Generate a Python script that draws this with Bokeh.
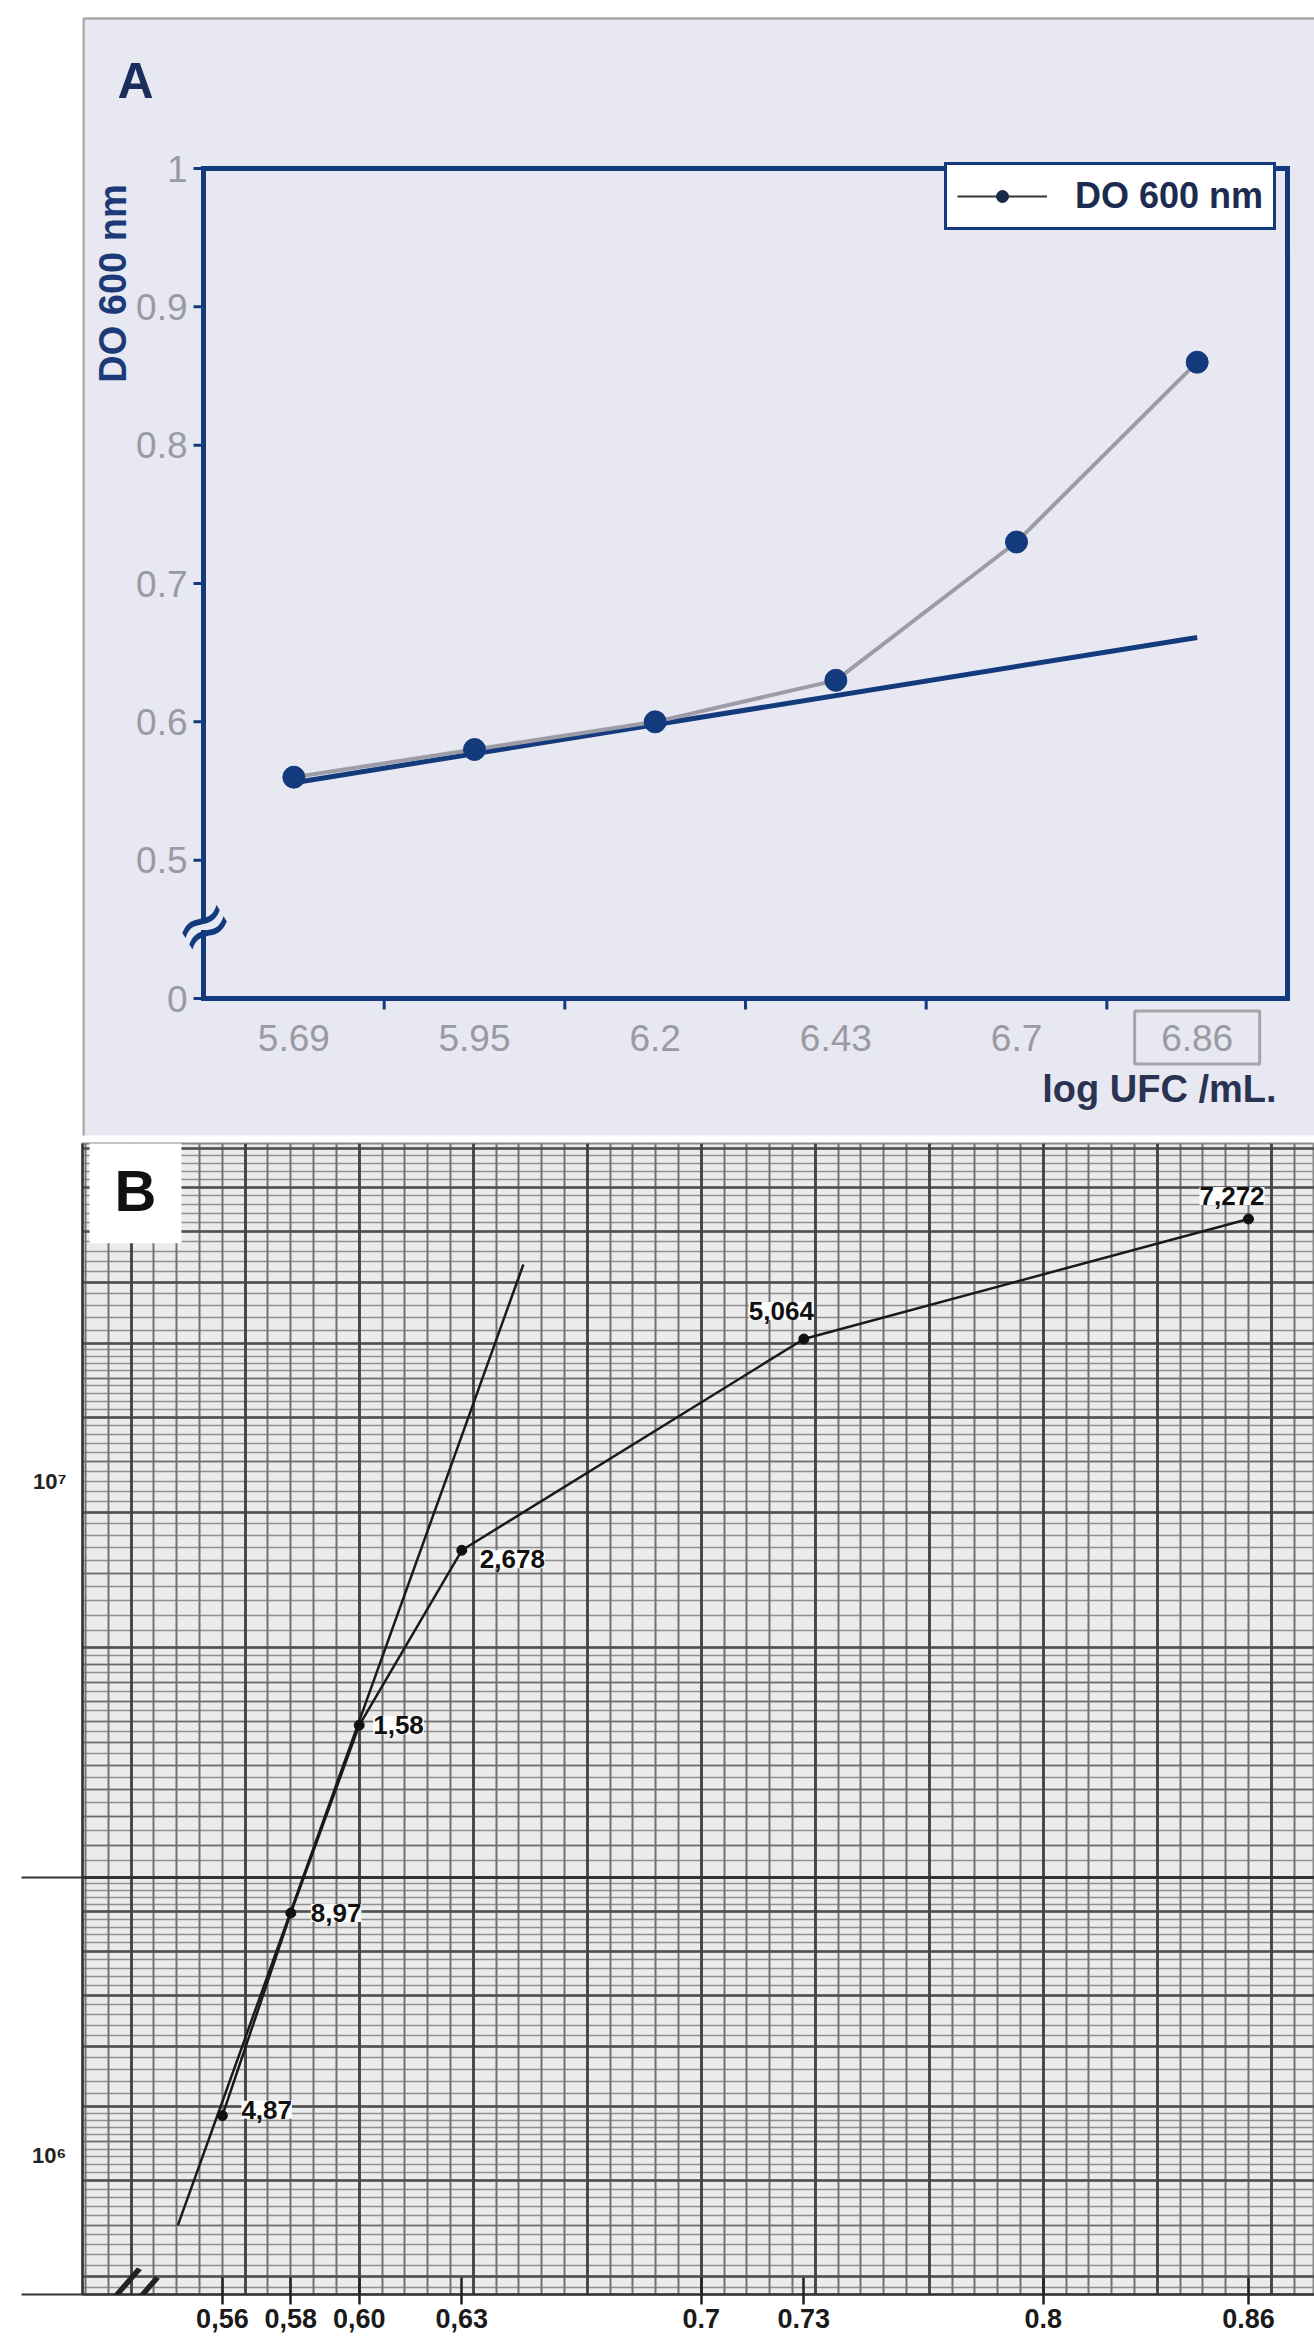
import numpy as np
from bokeh.plotting import figure
from bokeh.models import (Range1d, FixedTicker, Legend, LegendItem, Label, LabelSet,
                          ColumnDataSource, Grid)
from bokeh.layouts import column
from bokeh.embed import file_html
from bokeh.resources import INLINE
from bokeh.core.properties import value

# ---------------- data: panel A ----------------
a_x_labels = ["5.69", "5.95", "6.2", "6.43", "6.7", "6.86"]   # log UFC/mL (categories)
a_od = [0.56, 0.58, 0.60, 0.63, 0.73, 0.86]                  # DO 600 nm
a_trend_y = [0.556, 0.661]                                    # straight reference line, first -> last category
a_y_ticks = [0.4, 0.5, 0.6, 0.7, 0.8, 0.9, 1.0]
a_y_tick_labels = ["0", "0.5", "0.6", "0.7", "0.8", "0.9", "1"]

# ---------------- data: panel B ----------------
b_od = [0.56, 0.58, 0.60, 0.63, 0.73, 0.86]
b_count = [4.87e5, 8.97e5, 1.58e6, 2.678e6, 5.064e6, 7.272e6]
b_point_labels = ["4,87", "8,97", "1,58", "2,678", "5,064", "7,272"]
b_tangent_od = [0.547, 0.648]
b_tangent_count = [3.5e5, 6.34e6]
b_x_ticks = [0.56, 0.58, 0.60, 0.63, 0.7, 0.73, 0.8, 0.86]
b_x_tick_labels = ["0,56", "0,58", "0,60", "0,63", "0.7", "0.73", "0.8", "0.86"]
b_y_label_pos = [432000, 3300000]
b_y_labels = ["10\u2076", "10\u2077"]

# ---------------- styles ----------------
FONT = "Liberation Sans"
NAVY = "#143a7e"
LAV = "#e7e8f1"
GRAYTXT = "#9a9aa3"

# ================= Panel A =================
# The plot area covers the lavender panel; the framed chart, its ticks and labels are glyphs.
n = len(a_x_labels)
xa = [i + 0.5 for i in range(n)]
ya0, ya1 = a_y_ticks[0], a_y_ticks[-1]
W_A, H_A = 1314, 1137
FL = 82                    # left edge of the plot area (aligned with panel B)
X0, Y0 = 203, 998          # canvas pixel of (x=0, y=ya0)
ux = 1 / 180.67            # data units per pixel (x)
uy = 0.1 / 138.33          # data units per pixel (y)


def ax(px):
    return (px - X0) * ux


def ay(py):
    return ya0 + (Y0 - py) * uy


pA = figure(width=W_A, height=H_A, x_range=Range1d(ax(FL), ax(W_A)), y_range=Range1d(ay(H_A), ay(0)),
            x_axis_location=None, y_axis_location=None,
            output_backend="svg", toolbar_location=None,
            min_border_left=FL, min_border_right=0, min_border_top=0, min_border_bottom=0,
            background_fill_color="white", border_fill_color="white", outline_line_color=None)
pA.grid.visible = False

# lavender panel with grey edge
pA.quad(left=ax(FL - 5), right=ax(W_A + 5), bottom=ay(1135), top=ay(18), fill_color=LAV,
        line_color=None)
pA.line(x=[ax(FL + 1), ax(FL + 1), ax(W_A + 5)], y=[ay(1135), ay(18), ay(18)],
        line_color="#a7a7ab", line_width=2.5)

# frame
pA.quad(left=0, right=n, bottom=ya0, top=ya1, fill_color=None, line_color=NAVY,
        line_width=5, line_join="miter")
# y ticks + labels
pA.segment(x0=[-10 * ux] * len(a_y_ticks), y0=a_y_ticks, x1=[0] * len(a_y_ticks), y1=a_y_ticks,
           line_color=NAVY, line_width=3)
pA.text(x=[-16 * ux] * len(a_y_ticks), y=a_y_ticks, text=a_y_tick_labels,
        text_font=value(FONT), text_font_size="37px", text_color=GRAYTXT,
        text_align="right", text_baseline="middle")
# x ticks at category boundaries + labels
bounds = [float(i) for i in range(1, n)]
pA.segment(x0=bounds, y0=[ya0] * len(bounds), x1=bounds, y1=[ya0 - 11 * uy] * len(bounds),
           line_color=NAVY, line_width=3)
lab_y = ay(1037)
pA.text(x=xa, y=[lab_y] * n, text=a_x_labels, text_font=value(FONT), text_font_size="37px",
        text_color=GRAYTXT, text_align="center", text_baseline="middle")
pA.rect(x=xa[-1], y=lab_y, width=125, height=53, width_units="screen", height_units="screen",
        fill_color=None, line_color="#a5a5aa", line_width=3)

# axis break on the y axis
pA.rect(x=0, y=ay(925), width=14, height=9, width_units="screen", height_units="screen",
        fill_color=LAV, line_color=None)

# data
pA.line(x=[xa[0], xa[-1]], y=a_trend_y, line_color=NAVY, line_width=5)
pA.line(x=xa, y=a_od, line_color="#9b9ca6", line_width=4)
pA.scatter(x=xa, y=a_od, size=22, color=NAVY)

lg_line = pA.line(x=[np.nan], y=[np.nan], line_color="#333333", line_width=2)
lg_dot = pA.scatter(x=[np.nan], y=[np.nan], size=9, color="#1a2a4a")
legend = Legend(items=[LegendItem(label="DO 600 nm", renderers=[lg_line, lg_dot])],
                location=(944 - FL, H_A - 230), margin=0, padding=10, spacing=0,
                border_line_color=NAVY, border_line_width=3, border_line_alpha=1.0,
                background_fill_color="white", background_fill_alpha=1.0,
                label_text_font=FONT, label_text_font_size="36px", label_text_font_style="bold",
                label_text_color="#1c2b50", glyph_width=90, glyph_height=30, label_standoff=28)
pA.add_layout(legend)

pA.add_layout(Label(x=ax(135), y=ay(80), text="A", text_font=FONT, text_font_size="50px",
                    text_font_style="bold", text_color="#1b2d5c", text_align="center",
                    text_baseline="middle"))
pA.add_layout(Label(x=ax(112), y=ay(283), text="DO 600 nm", angle=np.pi / 2,
                    text_font=FONT, text_font_size="38px", text_font_style="bold",
                    text_color="#1d3a78", text_align="center", text_baseline="middle"))
pA.add_layout(Label(x=ax(1276), y=ay(1088), text="log UFC /mL.", text_font=FONT,
                    text_font_size="38px", text_font_style="bold", text_color="#2a3352",
                    text_align="right", text_baseline="middle"))
pA.add_layout(Label(x=0, y=ay(925), text="\u2248", text_font="DejaVu Sans", text_font_size="70px",
                    text_color=NAVY, angle=0.55, text_align="center", text_baseline="middle"))

# ================= Panel B =================
yb0, yb1 = 2.84e5, 9.13e6
pB = figure(width=1314, height=1203, x_range=Range1d(0.5191, 0.8793), y_range=Range1d(yb0, yb1),
            y_axis_type="log", output_backend="svg", toolbar_location=None,
            min_border_left=82, min_border_right=0, min_border_top=6, min_border_bottom=46,
            background_fill_color="#ebebeb", border_fill_color="white",
            outline_line_color="#8a8a8a", outline_line_width=2)
pB.grid.visible = False


def add_grid(p, dim, ticks, color, width):
    p.add_layout(Grid(dimension=dim, ticker=FixedTicker(ticks=[float(t) for t in ticks]),
                      grid_line_color=color, grid_line_width=width))


decades = [1e5, 1e6]
fine = np.concatenate([np.concatenate([np.arange(1, 2, 0.05), np.arange(2, 5, 0.1),
                                       np.arange(5, 10, 0.2)]) * d for d in decades])
medium = np.concatenate([np.concatenate([np.arange(1, 2, 0.1), np.arange(2, 5, 0.5),
                                         np.arange(5, 10, 1.0)]) * d for d in decades])
heavy = np.concatenate([np.arange(1, 10, 1.0) * d for d in decades])
vminor = np.arange(0.5, 0.9, 1 / 150)
vmajor = np.arange(0.5, 0.9, 1 / 30)

add_grid(pB, 1, fine, "#909090", 1.3)
add_grid(pB, 0, vminor, "#727272", 2)
add_grid(pB, 1, medium, "#6a6a6a", 1.7)
add_grid(pB, 1, heavy, "#505050", 2.3)
add_grid(pB, 0, vmajor, "#444444", 2.8)
add_grid(pB, 1, decades + [1e7], "#333333", 3)

xb = pB.xaxis[0]
xb.ticker = FixedTicker(ticks=b_x_ticks)
xb.major_label_overrides = dict(zip(b_x_ticks, b_x_tick_labels))
xb.axis_line_color = "#333333"
xb.axis_line_width = 2.5
xb.major_tick_line_color = "#222222"
xb.major_tick_line_width = 2.5
xb.major_tick_in = 17
xb.major_tick_out = 10
xb.minor_tick_line_color = None
xb.major_label_standoff = 4
xb.major_label_text_font = FONT
xb.major_label_text_font_size = "27px"
xb.major_label_text_font_style = "bold"
xb.major_label_text_color = "#1a1a1a"

yb = pB.yaxis[0]
yb.ticker = FixedTicker(ticks=b_y_label_pos, minor_ticks=[yb0, 1e6])
yb.major_label_overrides = dict(zip(b_y_label_pos, b_y_labels))
yb.axis_line_color = "#333333"
yb.axis_line_width = 2.5
yb.major_tick_line_color = None
yb.major_tick_out = 0
yb.major_tick_in = 0
yb.minor_tick_line_color = "#333333"
yb.minor_tick_line_width = 2
yb.minor_tick_out = 61
yb.minor_tick_in = 0
yb.major_label_standoff = -45
yb.major_label_text_font = FONT
yb.major_label_text_font_size = "22px"
yb.major_label_text_font_style = "bold"
yb.major_label_text_color = "#222222"

pB.line(x=b_tangent_od, y=b_tangent_count, line_color="#1a1a1a", line_width=2.5)
pB.line(x=b_od, y=b_count, line_color="#1a1a1a", line_width=2.5)
pB.scatter(x=b_od, y=b_count, size=10, color="#111111")

b_lab_dx = [19, 20, 14, 18, -55, -49]
b_lab_dy = [6, 0, 0, -9, 28, 23]
src = ColumnDataSource(dict(x=b_od, y=b_count, text=b_point_labels, dx=b_lab_dx, dy=b_lab_dy))
pB.add_layout(LabelSet(x="x", y="y", text="text", x_offset="dx", y_offset="dy", source=src,
                       text_font=value(FONT), text_font_size="26px", text_font_style="bold",
                       text_color="#111111", text_align="left", text_baseline="middle",
                       background_fill_color="white", background_fill_alpha=0.95))

pB.add_layout(Label(x=0.5346, y=7.92e6, text="B", text_font=FONT, text_font_size="58px",
                    text_font_style="bold", text_color="#111111", text_align="center",
                    text_baseline="middle", background_fill_color="white",
                    background_fill_alpha=1.0, padding=(25, 20)))
pB.add_layout(Label(x=0.533, y=yb0, text="//", text_font=FONT, text_font_size="72px",
                    text_color="#222222", angle=-0.45, text_align="center",
                    text_baseline="middle"))

layout = column(pA, pB)
open("out.html", "w").write(file_html(layout, INLINE))
